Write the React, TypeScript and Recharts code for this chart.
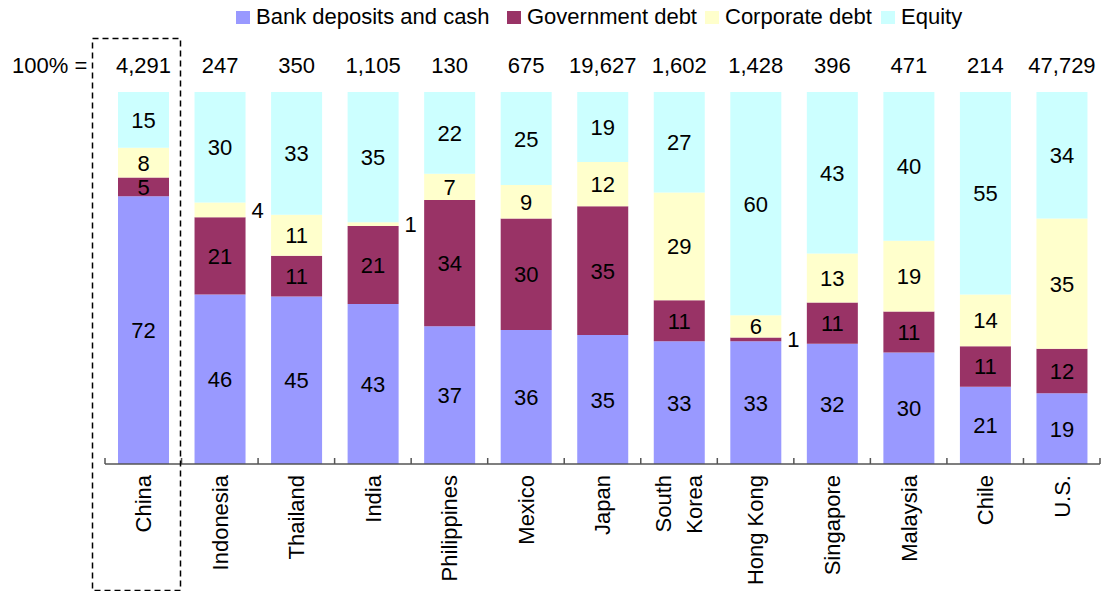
import React from "react";
import { BarChart, Bar, XAxis, YAxis, LabelList } from "recharts";

const categories = ["China", "Indonesia", "Thailand", "India", "Philippines", "Mexico", "Japan", "South Korea", "Hong Kong", "Singapore", "Malaysia", "Chile", "U.S."];
const totals = [4291, 247, 350, 1105, 130, 675, 19627, 1602, 1428, 396, 471, 214, 47729];
const bank = [72, 46, 45, 43, 37, 36, 35, 33, 33, 32, 30, 21, 19];
const gov = [5, 21, 11, 21, 34, 30, 35, 11, 1, 11, 11, 11, 12];
const corp = [8, 4, 11, 1, 7, 9, 12, 29, 6, 13, 19, 14, 35];
const equity = [15, 30, 33, 35, 22, 25, 19, 27, 60, 43, 40, 55, 34];

const seriesNames = ["Bank deposits and cash", "Government debt", "Corporate debt", "Equity"];
const seriesKeys = ["bank", "gov", "corp", "equity"];
const seriesColors = ["#9999FF", "#993366", "#FFFFCC", "#CCFFFF"];
const wrappedLabels: Record<string, string[]> = { "South Korea": ["South", "Korea"] };

const data = categories.map((c, i) => ({
  name: c,
  total: totals[i],
  bank: bank[i],
  gov: gov[i],
  corp: corp[i],
  equity: equity[i],
}));

const W = 1106;
const H = 591;
const M = { top: 92, right: 6, left: 105, bottom: 27 };
const XAXIS_H = 100;
const PLOT_W = W - M.left - M.right;
const FONT = "'Liberation Sans', Arial, sans-serif";
const FS = 22;

const SegLabel = (props: any) => {
  const { x, y, width, height, value } = props;
  if (value == null) return null;
  const small = value <= 4;
  if (small) {
    return (
      <text x={x + width + 6} y={y + height / 2 + 8} fontSize={FS} fontFamily={FONT} fill="#000" textAnchor="start">
        {value}
      </text>
    );
  }
  return (
    <text x={x + width / 2} y={y + height / 2 + 8} fontSize={FS} fontFamily={FONT} fill="#000" textAnchor="middle">
      {value}
    </text>
  );
};

const TotalLabel = (props: any) => {
  const { x, y, width, value } = props;
  return (
    <text x={x + width / 2} y={y - 19} fontSize={FS} fontFamily={FONT} fill="#000" textAnchor="middle">
      {Number(value).toLocaleString("en-US")}
    </text>
  );
};

const CatTick = (props: any) => {
  const { x, y, payload, index } = props;
  const step = PLOT_W / categories.length;
  const label: string = payload.value;
  const lines = wrappedLabels[label] || [label];
  const lineGap = 31;
  const n = lines.length;
  return (
    <g>
      <line x1={x - step / 2} x2={x - step / 2} y1={y - 6} y2={y} stroke="#555" strokeWidth={1.5} />
      {index === categories.length - 1 && (
        <line x1={x + step / 2} x2={x + step / 2} y1={y - 6} y2={y} stroke="#555" strokeWidth={1.5} />
      )}
      {lines.map((ln, k) => {
        const cx = x + (k - (n - 1) / 2) * lineGap;
        const ty = y + 11;
        return (
          <text
            key={k}
            x={cx}
            y={ty}
            dy="0.36em"
            transform={`rotate(-90 ${cx} ${ty})`}
            textAnchor="end"
            fontSize={FS}
            fontFamily={FONT}
            fill="#000"
          >
            {ln}
          </text>
        );
      })}
    </g>
  );
};

const legendX = [236, 507, 705, 881];

export default function App() {
  return (
    <div style={{ position: "absolute", left: 0, top: 0, width: W, height: H, background: "#fff" }}>
      <BarChart width={W} height={H} data={data} margin={M} stackOffset="expand" barSize={51}>
        <XAxis
          dataKey="name"
          height={XAXIS_H}
          interval={0}
          tickLine={false}
          tickSize={0}
          tickMargin={0}
          axisLine={{ stroke: "#555", strokeWidth: 1.5 }}
          tick={<CatTick />}
        />
        <YAxis hide domain={[0, 1]} />
        {seriesKeys.map((k, i) => (
          <Bar key={k} dataKey={k} stackId="a" fill={seriesColors[i]} isAnimationActive={false}>
            <LabelList dataKey={k} content={<SegLabel />} />
            {k === "equity" && <LabelList dataKey="total" content={<TotalLabel />} />}
          </Bar>
        ))}
      </BarChart>
      <svg width={W} height={H} style={{ position: "absolute", left: 0, top: 0, pointerEvents: "none" }}>
        {seriesNames.map((s, i) => (
          <g key={s}>
            <rect x={legendX[i]} y={11} width={14} height={13} fill={seriesColors[i]} />
            <text x={legendX[i] + 20} y={24} fontSize={FS} fontFamily={FONT} fill="#000">
              {s}
            </text>
          </g>
        ))}
        <text x={12} y={73} fontSize={FS} fontFamily={FONT} fill="#000">
          100% =
        </text>
        <rect x={92.5} y={38.5} width={88} height={552} fill="none" stroke="#000" strokeWidth={1.5} strokeDasharray="6 4" />
      </svg>
    </div>
  );
}
